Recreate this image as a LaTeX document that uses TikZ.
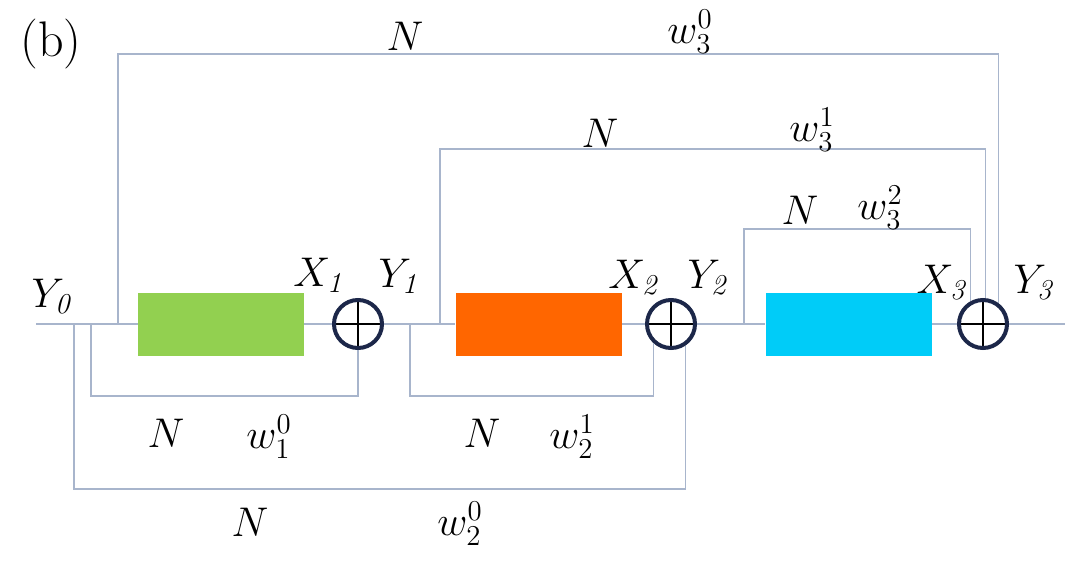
\documentclass[tikz,border=0pt]{standalone}
\usepackage{amsmath}
\definecolor{wire}{HTML}{A8B5CC}
\definecolor{navy}{HTML}{1C2749}
\definecolor{boxgreen}{HTML}{92D050}
\definecolor{boxorange}{HTML}{FF6600}
\definecolor{boxcyan}{HTML}{00CCF8}
\tikzset{
  wireline/.style={draw=wire, line width=0.75pt},
  block/.style={rectangle, inner sep=0pt, minimum width=83pt, minimum height=31.5pt, draw=none},
  oplus/.style={circle, draw=navy, line width=2pt, minimum size=24pt, inner sep=0pt,
    path picture={\draw[black, line width=1pt] (path picture bounding box.north) -- (path picture bounding box.south)
      (path picture bounding box.west) -- (path picture bounding box.east);}},
  lbl/.style={inner sep=0pt, font=\fontsize{20}{24}\selectfont}
}
\begin{document}
\begin{tikzpicture}[x=0.5pt, y=-0.5pt]
\useasboundingbox (0,0) rectangle (1080,562);
% blocks
\node[block, fill=boxgreen] (g) at (221,324) {};
\node[block, fill=boxorange] (o) at (538.5,324) {};
\node[block, fill=boxcyan] (c) at (848.5,324) {};
% adders
\node[oplus] (s1) at (358,324) {};
\node[oplus] (s2) at (671,324) {};
\node[oplus] (s3) at (983,324) {};
% coordinates
\coordinate (in) at (36,324);
\coordinate (out) at (1065,324);
\coordinate (b1) at (118,324);
\coordinate (b2) at (91,324);
\coordinate (b3) at (74,324);
\coordinate (b4) at (440,324);
\coordinate (b5) at (410,324);
\coordinate (b6) at (744,324);
\coordinate (h1) at (0,54);
\coordinate (h2) at (0,149);
\coordinate (h3) at (0,229);
\coordinate (h4) at (0,396);
\coordinate (h5) at (0,489);
% main line
\draw[wireline] (in) -- (g.west);
\draw[wireline] (g.east) -- (s1.west);
\draw[wireline] (s1.east) -- (o.west);
\draw[wireline] (o.east) -- (s2.west);
\draw[wireline] (s2.east) -- (c.west);
\draw[wireline] (c.east) -- (s3.west);
\draw[wireline] (s3.east) -- (out);
% skip connections above
\draw[wireline] (b1) -- (b1 |- h1) -| (s3.53);
\draw[wireline] (b4) -- (b4 |- h2) -| (s3.85);
\draw[wireline] (b6) -- (b6 |- h3) -| (s3.119);
% skip connections below
\draw[wireline] (b2) -- (b2 |- h4) -| (s1.south);
\draw[wireline] (b5) -- (b5 |- h4) -| (s2.-133);
\draw[wireline] (b3) -- (b3 |- h5) -| (s2.-56);
% labels
\node[inner sep=0pt, font=\fontsize{25}{30}\selectfont] (tag) at (51,44) {(b)};
\node[lbl] (n1) at (405,36) {$N$};
\node[lbl] (w30) at (690,32) {$w_3^0$};
\node[lbl] (n2) at (600,133) {$N$};
\node[lbl] (w31) at (812,130) {$w_3^1$};
\node[lbl] (n3) at (800,210) {$N$};
\node[lbl] (w32) at (880,208) {$w_3^2$};
\node[lbl] (x1) at (320,275) {$X_{\mathit{1}}$};
\node[lbl] (y1) at (400,276) {$Y_{\mathit{1}}$};
\node[lbl] (x2) at (635,277) {$X_{\mathit{2}}$};
\node[lbl] (y2) at (709,277) {$Y_{\mathit{2}}$};
\node[lbl] (x3) at (943,282) {$X_{\mathit{3}}$};
\node[lbl] (y3) at (1035,282) {$Y_{\mathit{3}}$};
\node[lbl] (y0) at (53,296) {$Y_{\mathit{0}}$};
\node[lbl] (n4) at (166,433) {$N$};
\node[lbl] (w10) at (269,437) {$w_1^0$};
\node[lbl] (n5) at (482,433) {$N$};
\node[lbl] (w21) at (572,437) {$w_2^1$};
\node[lbl] (n6) at (250,522) {$N$};
\node[lbl] (w20) at (460,524) {$w_2^0$};
\end{tikzpicture}
\end{document}
